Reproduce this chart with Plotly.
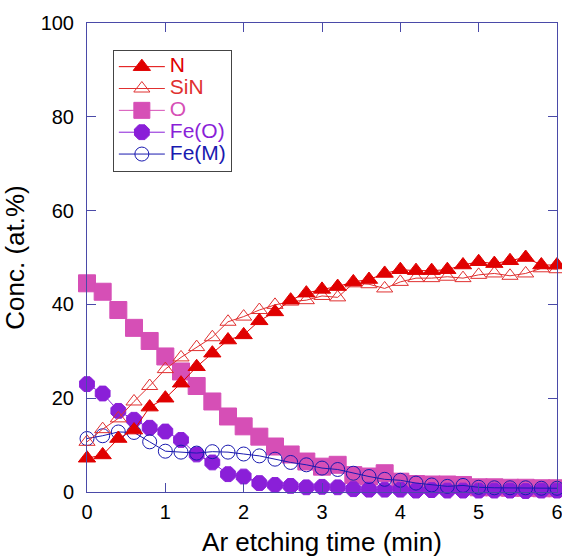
import plotly.graph_objects as go

time_min = [round(0.2 * i, 1) for i in range(31)]

N = [7.2, 7.9, 11.4, 13.2, 18.1, 20.0, 23.2, 26.7, 29.6, 32.4, 33.5, 36.5, 38.4, 40.9, 42.4,
     43.2, 43.8, 44.8, 45.3, 46.6, 47.4, 47.2, 47.2, 47.4, 48.4, 49.1, 48.7, 49.3, 50.0, 48.4, 48.4]
SiN = [10.7, 13.4, 15.7, 19.3, 22.6, 26.2, 28.7, 30.9, 33.0, 36.3, 37.4, 38.8, 39.9, 40.6, 40.9,
       41.8, 41.5, 44.5, 44.3, 43.4, 44.8, 45.6, 45.6, 45.9, 45.6, 46.3, 46.6, 46.1, 46.6, 47.7, 47.5]
O = [44.5, 42.7, 38.8, 35.0, 32.2, 28.9, 25.7, 22.6, 19.3, 16.1, 14.0, 11.8, 9.7, 8.0, 6.5,
     5.4, 5.8, 3.6, 3.3, 4.0, 2.2, 1.7, 1.6, 1.6, 1.5, 1.0, 1.0, 0.9, 0.9, 0.8, 0.8]
FeO = [23.0, 21.0, 17.3, 15.4, 13.7, 12.9, 11.1, 8.0, 6.3, 3.8, 3.3, 1.9, 1.5, 1.3, 1.0,
       1.1, 1.0, 0.6, 0.5, 0.5, 0.5, 0.3, 0.4, 0.3, 0.3, 0.3, 0.3, 0.3, 0.2, 0.3, 0.3]
FeM = [11.4, 12.0, 12.8, 12.7, 10.7, 8.7, 8.5, 8.3, 8.6, 8.5, 8.1, 7.7, 7.0, 6.3, 5.8,
       5.1, 4.8, 4.0, 3.3, 2.7, 2.5, 1.9, 1.5, 1.2, 1.4, 1.0, 0.9, 0.9, 0.9, 0.8, 0.8]

x_ticks = [0, 1, 2, 3, 4, 5, 6]
y_ticks = [0, 20, 40, 60, 80, 100]

c_N = "#e00000"
c_SiN = "#e03030"
c_O = "#d64fb6"
c_FeO = "#8a1fd8"
c_FeM = "#1a1ab0"

fig = go.Figure()

def add(name, y, color, symbol, size, rank):
    fig.add_trace(go.Scatter(
        x=time_min, y=y, mode="lines+markers",
        name=f'<span style="color:{color};font-size:21px">{name}</span>',
        line=dict(color=color, width=1),
        marker=dict(symbol=symbol, size=size, color=color,
                    line=dict(color=color, width=1)),
        cliponaxis=False, legendrank=rank,
    ))

add("O", O, c_O, "square", 17, 3)
add("Fe(O)", FeO, c_FeO, "octagon", 16, 4)
add("Fe(M)", FeM, c_FeM, "circle-open", 14, 5)
add("SiN", SiN, c_SiN, "triangle-up-open", 14, 2)
add("N", N, c_N, "triangle-up", 15, 1)

axcol = "#4a4aa8"
fig.update_layout(
    width=562, height=557,
    margin=dict(l=87, r=5, t=23, b=65),
    paper_bgcolor="white", plot_bgcolor="white",
    font=dict(family="Liberation Sans, Arial, sans-serif", size=20, color="black"),
    showlegend=True,
    legend=dict(x=0.055, y=0.943, xanchor="left", yanchor="top",
                bgcolor="white", bordercolor="#444444", borderwidth=1,
                font=dict(size=14.5), itemwidth=46, tracegroupgap=0,
                traceorder="normal"),
    xaxis=dict(range=[0, 6], tickvals=x_ticks, ticks="inside", ticklen=9, tickcolor=axcol,
               showline=True, linecolor=axcol, linewidth=1, mirror="ticks", showgrid=False,
               zeroline=False, automargin=False,
               title=dict(text="Ar etching time (min)", font=dict(size=26), standoff=13),
               ticklabelstandoff=2, ticklabeloverflow="allow"),
    yaxis=dict(range=[0, 100], tickvals=y_ticks, ticks="inside", ticklen=9, tickcolor=axcol,
               showline=True, linecolor=axcol, linewidth=1, mirror="ticks", showgrid=False,
               zeroline=False, automargin=False,
               title=dict(text="Conc. (at.%)", font=dict(size=26), standoff=8),
               ticklabelstandoff=8),
)

fig.write_html("out.html", config={"displayModeBar": False},
               post_script="document.body.style.margin='0';document.body.style.overflow='hidden';")
